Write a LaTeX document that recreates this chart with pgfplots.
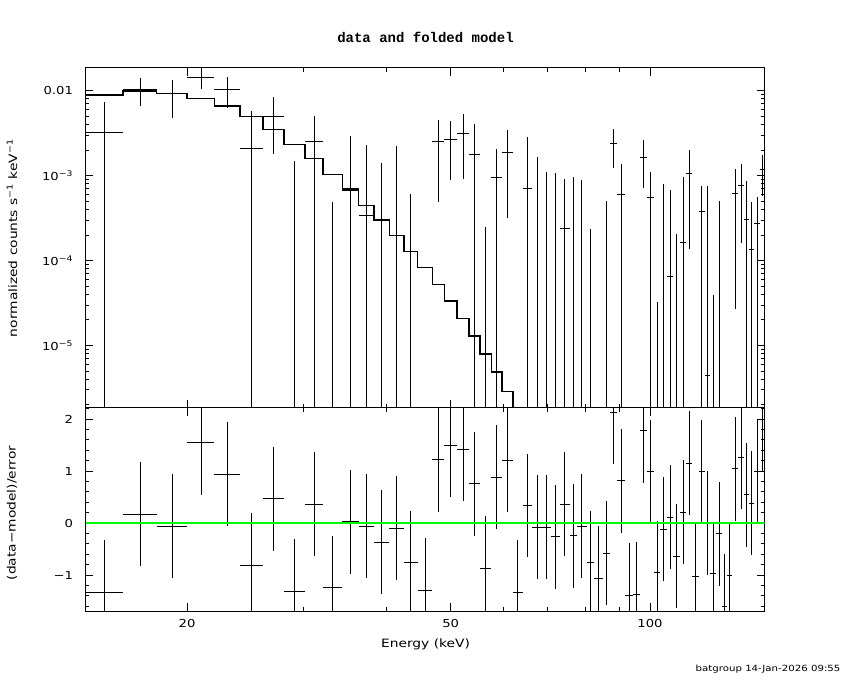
\documentclass[border=0pt]{standalone}
\usepackage{fontspec}
\setmainfont{DejaVu Sans}[FakeStretch=1.2]
\newfontfamily\titlefont{Liberation Mono}
\usepackage{pgfplots}
\usepackage{pgfplotstable}
\pgfplotsset{compat=1.18}
\definecolor{xgreen}{RGB}{0,255,0}

% bin centre, half width, data, lower and upper end of error bar
% (1.87e-6 = at the lower edge of the plot: value or error below the axis)
\pgfplotstableread{
x ex y ylo yhi
15.03 0.98 3.26e-3 1.87e-6 7.36e-3
17.0 1.0 1.038e-2 6.65e-3 1.40e-2
19.0 1.0 9.2e-3 4.8e-3 1.337e-2
21.0 1.0 1.439e-2 1.038e-2 1.85e-2
23.03 1.03 1.038e-2 6.3e-3 1.448e-2
25.05 1.0 2.1e-3 1.87e-6 5.77e-3
27.03 0.98 4.99e-3 1.81e-3 8.43e-3
29.08 1.08 1.87e-6 1.87e-6 1.48e-3
31.13 0.98 2.49e-3 1.87e-6 5.03e-3
33.2 1.1 1.87e-6 1.87e-6 4.89e-4
35.3 1.0 7.0e-4 1.87e-6 2.92e-3
37.3 1.0 3.37e-4 1.87e-6 2.29e-3
39.35 1.05 1.87e-6 1.87e-6 1.40e-3
41.45 1.05 1.87e-6 1.87e-6 2.23e-3
43.55 1.05 1.87e-6 1.87e-6 6.07e-4
47.9 1.0 2.49e-3 4.93e-4 4.52e-3
50.0 1.1 2.68e-3 8.95e-4 4.4e-3
52.2 1.1 3.15e-3 9.2e-4 5.32e-3
54.35 1.05 1.78e-3 1.87e-6 4.06e-3
56.5 1.1 1.87e-6 1.87e-6 2.5e-4
58.7 1.1 9.55e-4 1.87e-6 2.05e-3
60.95 1.15 1.88e-3 3.19e-4 3.44e-3
65.3 1.1 7.14e-4 1.87e-6 2.85e-3
67.55 1.15 1.87e-6 1.87e-6 1.64e-3
69.8 1.1 1.87e-6 1.87e-6 1.10e-3
72.05 1.15 1.87e-6 1.87e-6 1.07e-3
74.4 1.2 2.39e-4 1.87e-6 9.12e-4
76.65 1.05 1.87e-6 1.87e-6 9.64e-4
78.95 1.25 1.87e-6 1.87e-6 8.87e-4
81.25 1.05 1.87e-6 1.87e-6 2.35e-4
85.95 1.15 1.87e-6 1.87e-6 5.02e-4
88.2 1.1 2.40e-3 1.24e-3 3.54e-3
90.55 1.25 6.03e-4 1.87e-6 1.37e-3
97.7 1.2 1.64e-3 7.19e-4 2.62e-3
100.1 1.2 5.6e-4 1.87e-6 1.10e-3
102.5 1.2 1.87e-6 1.87e-6 3.24e-5
104.9 1.2 1.87e-6 1.87e-6 7.96e-4
107.3 1.2 6.52e-5 1.87e-6 6.76e-4
109.7 1.2 1.87e-6 1.87e-6 2.05e-4
112.2 1.3 1.64e-4 1.87e-6 9.71e-4
114.7 1.2 1.06e-3 1.38e-4 2.0e-3
119.65 1.25 3.79e-4 1.87e-6 7.55e-4
122.05 1.15 4.48e-6 1.87e-6 7.55e-4
124.5 1.3 1.87e-6 1.87e-6 3.92e-5
127.15 1.35 1.87e-6 1.87e-6 5.02e-4
134.55 1.35 6.24e-4 2.7e-5 1.20e-3
137.25 1.35 7.69e-4 1.61e-4 1.37e-3
139.8 1.2 3.06e-4 1.87e-6 8.63e-4
142.35 1.35 1.35e-4 1.87e-6 4.89e-4
145.05 1.35 2.74e-4 1.87e-6 5.6e-4
147.7 1.3 1.17e-3 5.8e-4 1.75e-3
}\topdata

% folded model, value held from each left bin edge
\pgfplotstableread{
e m
14.05 8.9e-3
16.0 9.92e-3
18.0 9.22e-3
20.0 8.14e-3
22.0 6.6e-3
24.05 4.99e-3
26.05 3.51e-3
28.0 2.34e-3
30.15 1.58e-3
32.1 1.026e-3
34.3 6.77e-4
36.3 4.47e-4
38.3 3.0e-4
40.4 1.98e-4
42.5 1.29e-4
44.6 8.3e-5
46.9 5.25e-5
48.9 3.34e-5
51.1 2.08e-5
53.3 1.30e-5
55.4 7.98e-6
57.6 4.9e-6
59.8 2.9e-6
62.1 1.87e-6
149.0 1.87e-6
}\modeldata

% residuals (data-model)/error
\pgfplotstableread{
x ex r
15.03 0.98 -1.33
17.0 1.0 0.17
19.0 1.0 -0.06
21.0 1.0 1.55
23.03 1.03 0.94
25.05 1.0 -0.81
27.03 0.98 0.47
29.08 1.08 -1.31
31.13 0.98 0.36
33.2 1.1 -1.24
35.3 1.0 0.03
37.3 1.0 -0.06
39.35 1.05 -0.37
41.45 1.05 -0.10
43.55 1.05 -0.76
45.75 1.15 -1.29
47.9 1.0 1.22
50.0 1.1 1.50
52.2 1.1 1.42
54.35 1.05 0.76
56.5 1.1 -0.87
58.7 1.1 0.88
60.95 1.15 1.21
63.15 1.05 -1.33
65.3 1.1 0.34
67.55 1.15 -0.08
69.8 1.1 -0.08
72.05 1.15 -0.26
74.4 1.2 0.36
76.65 1.05 -0.24
78.95 1.25 -0.06
81.25 1.05 -0.76
83.55 1.25 -1.06
85.95 1.15 -0.58
88.2 1.1 2.13
90.55 1.25 0.82
92.95 1.15 -1.39
95.3 1.2 -1.37
97.7 1.2 1.78
100.1 1.2 0.99
102.5 1.2 -0.95
104.9 1.2 -0.12
107.3 1.2 0.11
109.7 1.2 -0.64
112.2 1.3 0.21
114.7 1.2 1.15
117.15 1.25 -1.02
119.65 1.25 0.99
122.05 1.15 0.00
124.5 1.3 -0.97
127.15 1.35 -0.20
129.65 1.15 -1.60
132.0 1.2 -1.00
134.55 1.35 1.05
137.25 1.35 1.27
139.8 1.2 0.55
142.35 1.35 0.38
145.05 1.35 0.99
147.7 1.3 2.00
}\resdata

\begin{document}
\begin{tikzpicture}[x=1pt,y=1pt]
\path (0,0) rectangle (850,680);

\begin{axis}[
  scale only axis,
  width=679.2pt,
  height=339.5pt,
  at={(85.5pt,272.5pt)}, anchor=south west,
  xmode=log, ymode=log,
  xmin=14.05, xmax=149,
  ymin=1.866e-6, ymax=0.0185,
  tick align=inside,
  major tick length=8pt,
  minor tick length=4pt,
  axis line style={line width=1pt},
  tick style={line width=1pt, black},
  minor tick style={line width=1pt, black},
  xtick={20,50,100},
  minor xtick={30,40,60,70,80,90},
  xticklabels={},
  tick label style={font=\fontsize{11}{13}\selectfont},
  yticklabel style={xshift=-9pt},
  ytick={1e-5,1e-4,1e-3,1e-2},
  yticklabels={\mbox{10\textsuperscript{−5}},\mbox{10\textsuperscript{−4}},\mbox{10\textsuperscript{−3}},\mbox{0.01}},
  minor ytick={2e-6,3e-6,4e-6,5e-6,6e-6,7e-6,8e-6,9e-6,
               2e-5,3e-5,4e-5,5e-5,6e-5,7e-5,8e-5,9e-5,
               2e-4,3e-4,4e-4,5e-4,6e-4,7e-4,8e-4,9e-4,
               2e-3,3e-3,4e-3,5e-3,6e-3,7e-3,8e-3,9e-3},
]
\addplot[const plot, black, line width=1.4pt] table[x=e, y=m] {\modeldata};
\addplot[draw=none, mark=none,
  error bars/x dir=both, error bars/x explicit,
  error bars/y dir=both, error bars/y explicit,
  error bars/error mark=none,
  error bars/error bar style={draw=black, line width=1pt}]
  table[x=x, y=y, x error=ex,
        y error plus expr=\thisrow{yhi}-\thisrow{y},
        y error minus expr=\thisrow{y}-\thisrow{ylo}] {\topdata};
\end{axis}

\begin{axis}[
  scale only axis,
  width=679.2pt,
  height=203.5pt,
  at={(85.5pt,69pt)}, anchor=south west,
  xmode=log,
  xmin=14.05, xmax=149,
  ymin=-1.69, ymax=2.225,
  tick align=inside,
  major tick length=8pt,
  minor tick length=4pt,
  axis line style={line width=1pt},
  tick style={line width=1pt, black},
  minor tick style={line width=1pt, black},
  xtick={20,50,100},
  minor xtick={30,40,60,70,80,90},
  xticklabels={\mbox{20},\mbox{50},\mbox{100}},
  tick label style={font=\fontsize{11}{13}\selectfont},
  yticklabel style={xshift=-9pt},
  xticklabel style={yshift=-5pt},
  ytick={-1,0,1,2},
  yticklabels={\mbox{−1},\mbox{0},\mbox{1},\mbox{2}},
  minor ytick={-1.6,-1.4,-1.2,-0.8,-0.6,-0.4,-0.2,0.2,0.4,0.6,0.8,1.2,1.4,1.6,1.8,2.2},
]
\addplot[draw=none, mark=none,
  error bars/x dir=both, error bars/x explicit,
  error bars/y dir=both, error bars/y explicit,
  error bars/error mark=none,
  error bars/error bar style={draw=black, line width=1pt}]
  table[x=x, y=r, x error=ex,
        y error plus expr={min(1,2.225-\thisrow{r})},
        y error minus expr={min(1,\thisrow{r}+1.69)}] {\resdata};
\addplot[xgreen, line width=2pt] coordinates {(14.05,0) (149,0)};
\end{axis}

\node[anchor=base, font=\titlefont\bfseries\fontsize{14}{16}\selectfont] at (425.5,637) {data and folded model};
\node[anchor=base, font=\fontsize{11.5}{13}\selectfont] at (425.5,33) {Energy (keV)};
\node[rotate=90, anchor=center, font=\fontsize{11.5}{13}\selectfont] at (12,442) {normalized counts s\textsuperscript{−1} keV\textsuperscript{−1}};
\node[rotate=90, anchor=center, font=\fontsize{11.5}{13}\selectfont] at (12,167) {(data−model)/error};
\node[anchor=base east, font=\fontsize{8.5}{10}\selectfont] at (844,9) {batgroup 14-Jan-2026 09:55};
\end{tikzpicture}
\end{document}
